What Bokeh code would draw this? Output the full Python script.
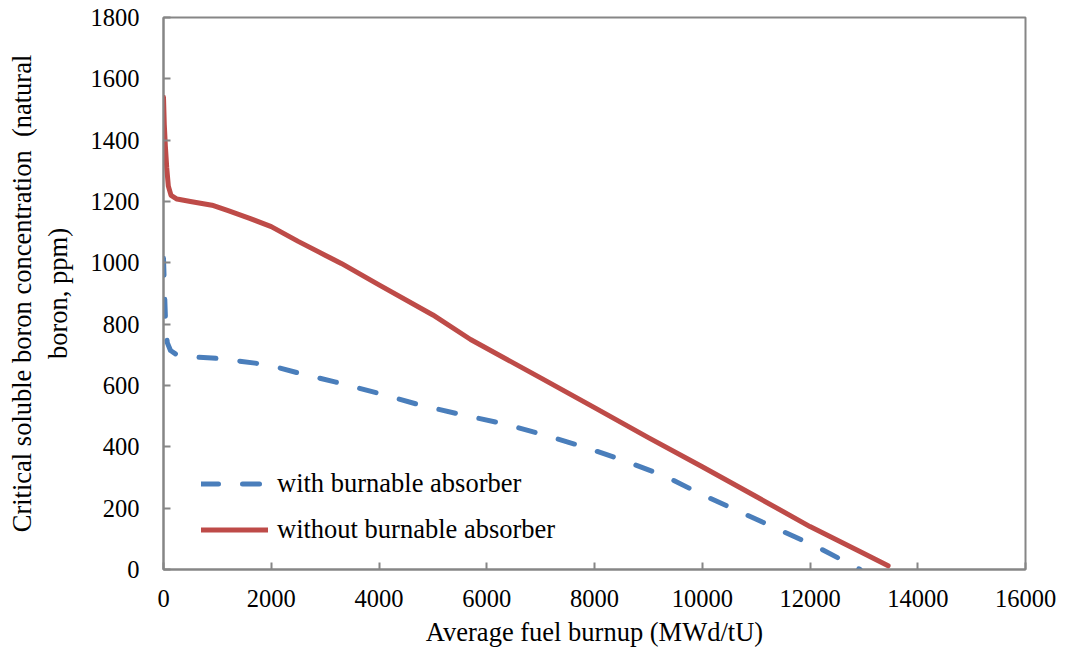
from bokeh.plotting import figure
from bokeh.models import Range1d, FixedTicker, Legend, LegendItem
from bokeh.embed import file_html
from bokeh.resources import INLINE

# Data
burnup_with = [0, 20, 40, 70, 130, 250, 500, 900, 1300, 1700, 2100, 2500, 3200, 4000,
               4750, 5500, 6300, 7000, 7800, 8500, 9300, 10000, 10700, 11400, 12150, 12930]
boron_with = [1015, 900, 800, 740, 714, 700, 693, 690, 682, 673, 660, 641, 611, 574,
              537, 506, 476, 442, 400, 358, 305, 244, 188, 132, 72, 0]

burnup_without = [0, 15, 35, 60, 90, 140, 250, 500, 900, 1200, 1600, 2000, 2500, 3000,
                  3300, 4000, 5000, 5700, 7000, 8000, 9000, 10000, 11000, 12000, 13000, 13450]
boron_without = [1540, 1450, 1380, 1310, 1250, 1220, 1208, 1200, 1188, 1170, 1145, 1118, 1070, 1025,
                 998, 928, 830, 750, 625, 528, 430, 335, 238, 140, 52, 12]

x_ticks = [0, 2000, 4000, 6000, 8000, 10000, 12000, 14000, 16000]
y_ticks = [0, 200, 400, 600, 800, 1000, 1200, 1400, 1600, 1800]

series_labels = ["with burnable absorber", "without burnable absorber"]
x_label = "Average fuel burnup (MWd/tU)"
y_label = "Critical soluble boron concentration \u00a0(natural\nboron, ppm)"

FONT = "Liberation Serif"
AXIS_COLOR = "#868686"
BLUE = "#4A7EBB"
RED = "#BE4B48"

p = figure(width=1057, height=649, output_backend="svg", toolbar_location=None,
           x_range=Range1d(0, 16000), y_range=Range1d(0, 1800),
           min_border_left=163, min_border_right=32, min_border_top=17, min_border_bottom=80)

p.xgrid.visible = False
p.ygrid.visible = False
p.outline_line_color = AXIS_COLOR
p.outline_line_width = 2
p.background_fill_color = "white"
p.border_fill_color = "white"

for ax in (p.xaxis[0], p.yaxis[0]):
    ax.axis_line_color = AXIS_COLOR
    ax.axis_line_width = 2
    ax.major_tick_line_color = AXIS_COLOR
    ax.major_tick_line_width = 2
    ax.major_tick_in = 7
    ax.major_tick_out = 0
    ax.minor_tick_line_color = None
    ax.major_label_text_font = FONT
    ax.major_label_text_font_size = "24.5px"
    ax.major_label_text_color = "black"
    ax.axis_label_text_font = FONT
    ax.axis_label_text_font_size = "26.5px"
    ax.axis_label_text_font_style = "normal"
    ax.axis_label_text_color = "black"

p.xaxis.ticker = FixedTicker(ticks=x_ticks)
p.yaxis.ticker = FixedTicker(ticks=y_ticks)
p.xaxis.major_label_standoff = 20
p.yaxis.major_label_standoff = 24
p.xaxis.axis_label = x_label
p.yaxis.axis_label = y_label
p.xaxis.axis_label_standoff = 7
p.yaxis.axis_label_standoff = 15

r_with = p.line(burnup_with, boron_with, line_color=BLUE, line_width=5,
                line_dash="17 24", line_cap="round", line_join="round")
r_without = p.line(burnup_without, boron_without, line_color=RED, line_width=5,
                   line_cap="round", line_join="round")

legend = Legend(items=[LegendItem(label=series_labels[0], renderers=[r_with]),
                       LegendItem(label=series_labels[1], renderers=[r_without])],
                location=(38, 24), orientation="vertical")
legend.label_text_font = FONT
legend.label_text_font_size = "26.5px"
legend.label_text_color = "black"
legend.glyph_width = 67
legend.glyph_height = 27
legend.label_height = 27
legend.spacing = 15
legend.label_standoff = 9
legend.padding = 10
legend.border_line_color = None
legend.background_fill_alpha = 0
p.add_layout(legend, "center")

open("out.html", "w").write(file_html(p, INLINE))
